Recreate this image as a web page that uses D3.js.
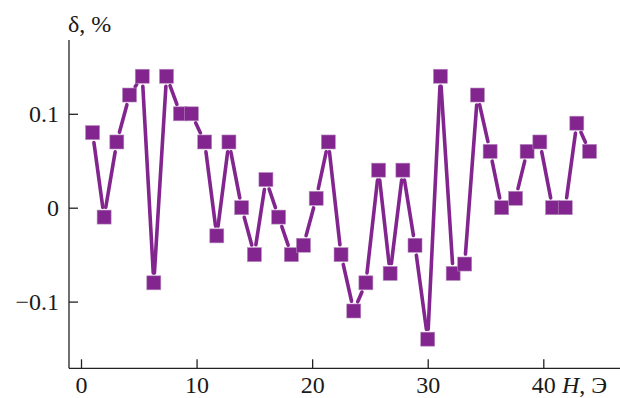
<!DOCTYPE html>
<html>
<head>
<meta charset="utf-8">
<script src="https://cdn.jsdelivr.net/npm/d3@7"></script>
<style>
  html, body { margin: 0; padding: 0; background: #fff; }
  svg { display: block; }
</style>
</head>
<body>
<svg id="chart" width="620" height="398"></svg>
<script>
// Data
const fieldH = [1.0, 2.0, 3.1, 4.2, 5.3, 6.3, 7.4, 8.6, 9.55, 10.7, 11.75, 12.8, 13.9, 15.0, 16.0, 17.1, 18.2, 19.25, 20.35, 21.4, 22.5, 23.6, 24.65, 25.75, 26.75, 27.85, 28.9, 30.0, 31.1, 32.2, 33.2, 34.3, 35.4, 36.4, 37.6, 38.6, 39.7, 40.8, 41.9, 42.9, 44.0];
const delta = [0.08, -0.01, 0.07, 0.12, 0.14, -0.08, 0.14, 0.10, 0.10, 0.07, -0.03, 0.07, 0.0, -0.05, 0.03, -0.01, -0.05, -0.04, 0.01, 0.07, -0.05, -0.11, -0.08, 0.04, -0.07, 0.04, -0.04, -0.14, 0.14, -0.07, -0.06, 0.12, 0.06, 0.0, 0.01, 0.06, 0.07, 0.0, 0.0, 0.09, 0.06];
const xTicks = [0, 10, 20, 30, 40];
const yTicks = [-0.1, 0, 0.1];
const xLabel = "H";
const xUnit = ", Э";
const yLabel = "δ, %";

const FONT = "'Liberation Serif', 'Times New Roman', 'DejaVu Serif', serif";
const svg = d3.select("#chart");
const color = "#83258f";

const x = d3.scaleLinear().domain([0, 40]).range([81, 543.3]);
const y = d3.scaleLinear().domain([-0.1, 0.1]).range([301.6, 113.8]);

const axisX0 = 69, axisY0 = 368.3;
const fontSize = 24;

function styleText(sel) {
  sel.style("font-family", FONT).style("font-size", fontSize + "px").style("fill", "#1a1a1a");
}

// axis lines
svg.append("line").attr("x1", axisX0).attr("x2", axisX0).attr("y1", 40).attr("y2", axisY0)
  .attr("stroke", "#222").attr("stroke-width", 1.3);
svg.append("line").attr("x1", axisX0).attr("x2", 620).attr("y1", axisY0).attr("y2", axisY0)
  .attr("stroke", "#222").attr("stroke-width", 1.3);

// y axis
const yAxis = d3.axisLeft(y).tickValues(yTicks).tickSize(-9).tickPadding(10)
  .tickFormat(d => d === 0 ? "0" : d3.format(".1f")(d));
const gy = svg.append("g").attr("transform", `translate(${axisX0},0)`).call(yAxis);
gy.select(".domain").remove();
gy.selectAll("line").attr("stroke", "#222").attr("stroke-width", 1.3);
styleText(gy.selectAll("text"));

// x axis
const xAxis = d3.axisBottom(x).tickValues(xTicks).tickSize(-9).tickPadding(8)
  .tickFormat(d3.format("d"));
const gx = svg.append("g").attr("transform", `translate(0,${axisY0})`).call(xAxis);
gx.select(".domain").remove();
gx.selectAll("line").attr("stroke", "#222").attr("stroke-width", 1.3);
styleText(gx.selectAll("text"));

// axis labels
const xl = svg.append("text").attr("x", 562).attr("y", 393.3);
styleText(xl);
xl.append("tspan").style("font-style", "italic").text(xLabel);
xl.append("tspan").text(xUnit);
const yl = svg.append("text").attr("x", 68).attr("y", 32).text(yLabel);
styleText(yl);

// data
const pts = fieldH.map((h, i) => [x(h), y(delta[i])]);
const gap = 10;
const segs = [];
for (let i = 0; i < pts.length - 1; i++) {
  const [x1, y1] = pts[i], [x2, y2] = pts[i + 1];
  const dx = x2 - x1, dy = y2 - y1, L = Math.hypot(dx, dy);
  if (L > 2 * gap + 2) {
    const ux = dx / L, uy = dy / L;
    segs.push([x1 + ux * gap, y1 + uy * gap, x2 - ux * gap, y2 - uy * gap]);
  }
}
svg.append("g").selectAll("line").data(segs).join("line")
  .attr("x1", d => d[0]).attr("y1", d => d[1]).attr("x2", d => d[2]).attr("y2", d => d[3])
  .attr("stroke", color).attr("stroke-width", 3.6).attr("stroke-linecap", "round");

const s = 14;
svg.append("g").selectAll("rect").data(pts).join("rect")
  .attr("x", d => d[0] - s / 2).attr("y", d => d[1] - s / 2)
  .attr("width", s).attr("height", s)
  .attr("fill", color).attr("stroke", "#b58abd").attr("stroke-width", 0.6);
</script>
</body>
</html>
